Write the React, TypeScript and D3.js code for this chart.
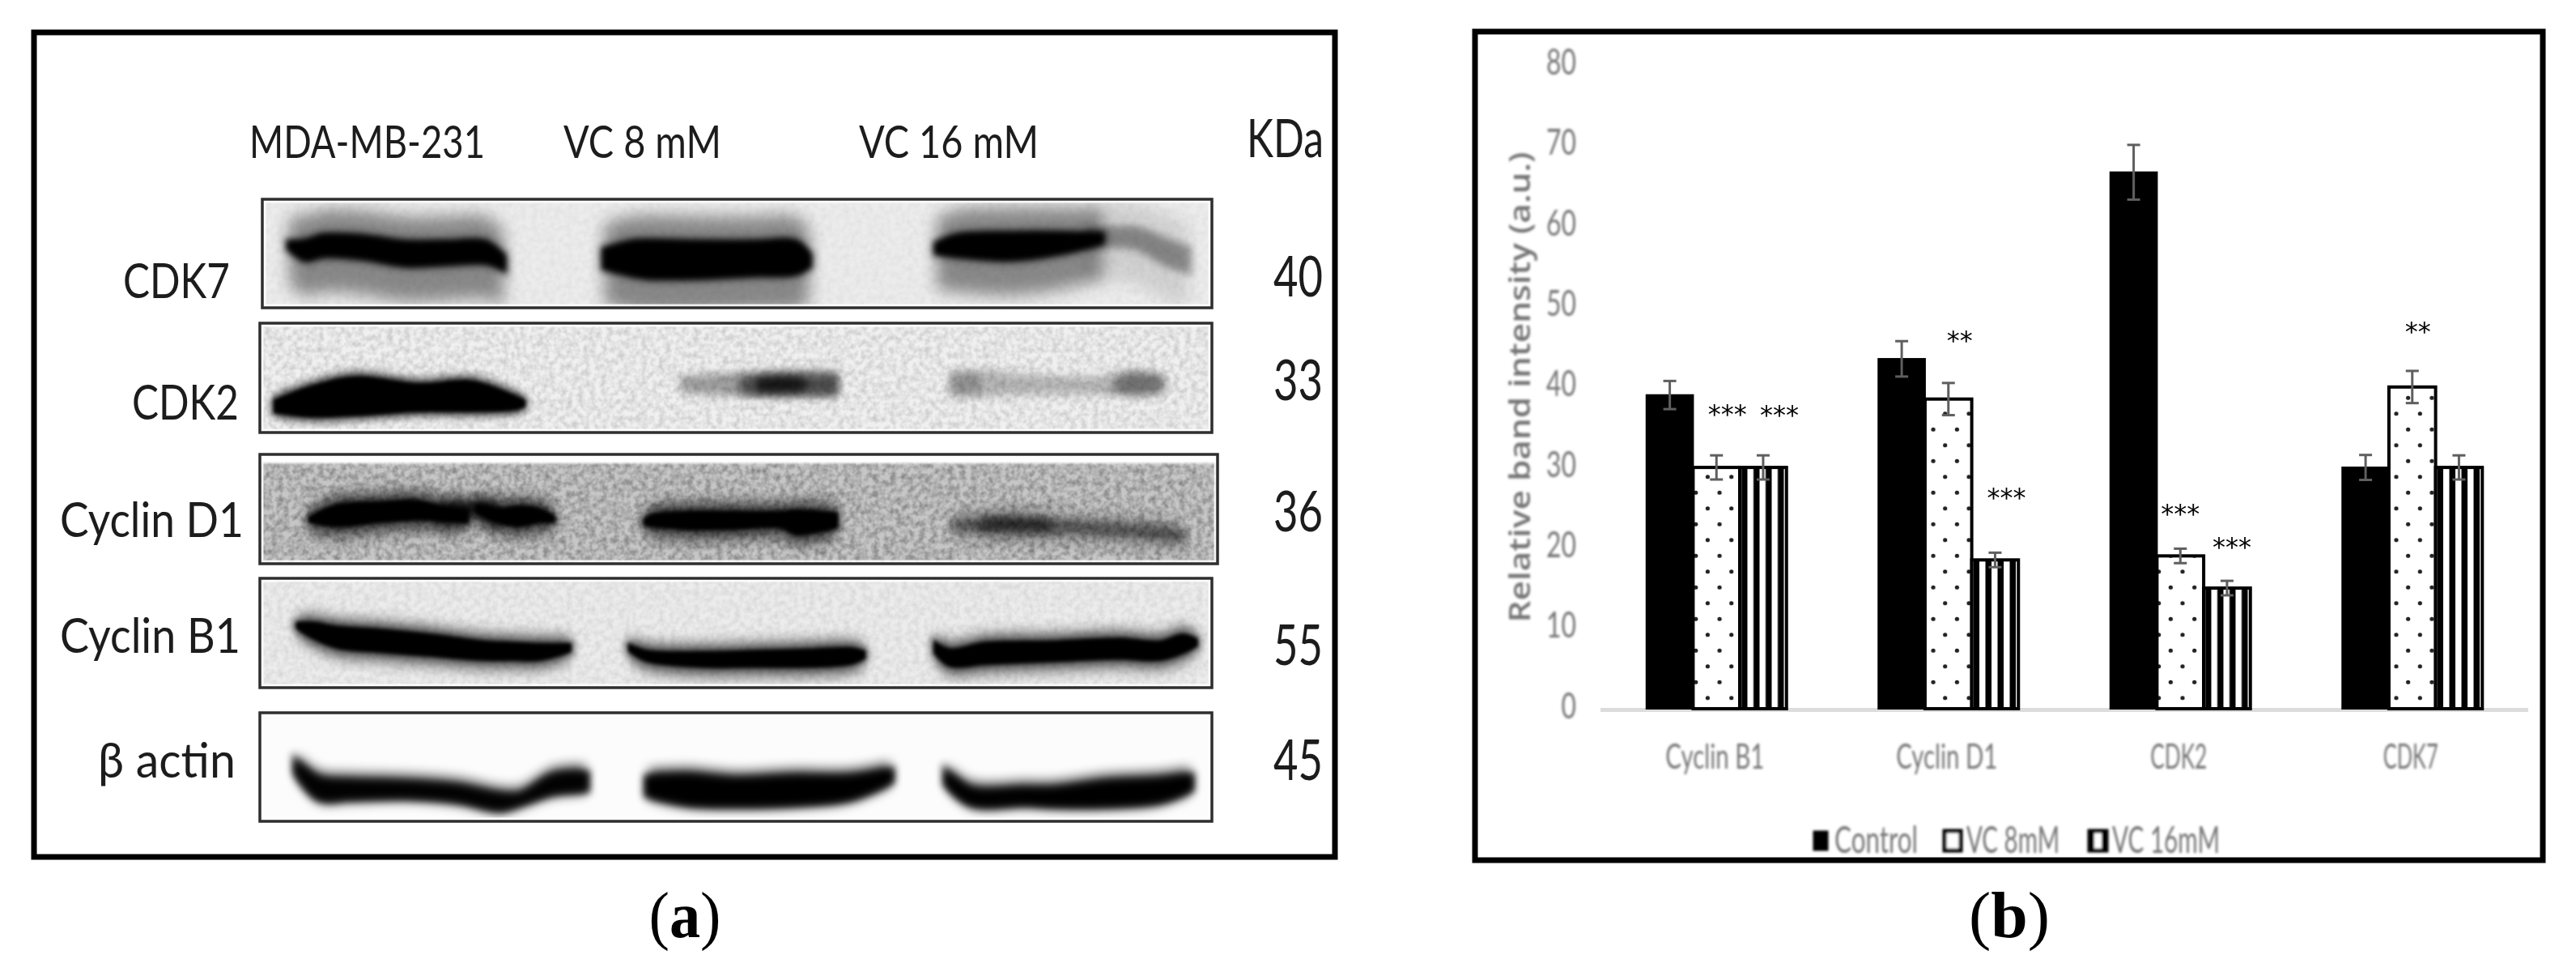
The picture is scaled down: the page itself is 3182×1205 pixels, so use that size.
import { useEffect, useRef } from 'react';
import * as d3 from 'd3';

// bar chart values (panel b)
const categories = ['Cyclin B1', 'Cyclin D1', 'CDK2', 'CDK7'];
const seriesNames = ['Control', 'VC 8mM', 'VC 16mM'];
const controlValues = [39, 43.5, 66.7, 30];
const vc8Values = [30, 38.5, 19, 40];
const vc16Values = [30, 18.5, 15, 30];
const controlErrors = [1.75, 2.2, 3.4, 1.55];
const vc8Errors = [1.5, 2, 0.9, 2];
const vc16Errors = [1.5, 0.9, 0.9, 1.5];
const yTicks = [0, 10, 20, 30, 40, 50, 60, 70, 80];
// significance marks: category, series, label, height in chart units
const stars: [number, number, string, number][] = [
  [0, 1, '***', 37.2],
  [0, 2, '***', 37.1],
  [1, 1, '**', 46.3],
  [1, 2, '***', 26.8],
  [2, 1, '***', 24.8],
  [2, 2, '***', 20.6],
  [3, 1, '**', 47.4],
];

// blot labels (panel a)
const laneLabels = ['MDA-MB-231', 'VC 8 mM', 'VC 16 mM'];
const blotNames = ['CDK7', 'CDK2', 'Cyclin D1', 'Cyclin B1', 'β actin'];
const kdaLabels = ['40', '33', '36', '55', '45'];

// band outlines: [% along the blot, % top edge, % bottom edge]
type BandPoint = [number, number, number];
const cdk7A: BandPoint[] = [[3.1, 40, 45], [4.8, 39, 55], [6.7, 34, 51.5], [11, 35, 54], [15.2, 40, 60], [19.5, 40, 59], [23.7, 40, 57.7], [25.6, 52.7, 64]];
const cdk7B: BandPoint[] = [[36.2, 46.5, 62.7], [39, 40, 69], [40.7, 39, 71.4], [46.4, 40, 71.4], [52, 40, 69], [56.3, 40, 67.7], [57.7, 51.5, 61.4]];
const cdk7C: BandPoint[] = [[71.1, 41.5, 49], [73.3, 34, 51.5], [79, 32, 54.5], [84.7, 32, 47.8], [88.4, 33, 39]];
const cdk7Tail: BandPoint[] = [[87, 30, 42], [92, 28, 44], [95, 38, 58], [97.5, 46, 66]];
const cdk2A: BandPoint[] = [[1.6, 71, 81], [5.3, 58.8, 84.7], [10.1, 50, 83.4], [16.7, 56.3, 79.8], [22.3, 53.8, 79.8], [26.5, 66.2, 78.5], [27.7, 71, 76]];
const cdk2B1: BandPoint[] = [[44.4, 52, 60], [48, 50, 62], [52, 48, 64], [56, 47, 64], [60.5, 47, 64]];
const cdk2B2: BandPoint[] = [[50.7, 52, 62], [54.9, 50, 63], [60.5, 50, 63]];
const cdk2B3: BandPoint[] = [[52.5, 54, 59], [55, 53, 59], [57, 54, 58]];
const cdk2C1: BandPoint[] = [[72.8, 48, 64], [76, 46, 64], [80, 50, 62], [84, 52, 62], [88, 52, 62], [92, 46, 64], [95, 50, 60]];
const cdk2C2: BandPoint[] = [[72.5, 50, 62], [74, 48, 63], [75.5, 50, 62]];
const cdk2C3: BandPoint[] = [[90, 52, 60], [92, 49, 62], [94.6, 52, 60]];
const d1A1: BandPoint[] = [[5.3, 58, 61], [8.1, 47.4, 64.7], [12.4, 44.9, 61], [16.6, 43.7, 58.5], [19.5, 49.9, 59.8], [21.7, 52.3, 61]];
const d1A2: BandPoint[] = [[22.9, 47.4, 52.3], [25.1, 51.1, 61], [27.1, 48.6, 64.7], [29.4, 51.1, 61], [30.8, 57.3, 61]];
const d1A3: BandPoint[] = [[19, 50, 58], [23, 47, 52], [25, 51, 60]];
const d1B: BandPoint[] = [[40.5, 59.8, 63.5], [41.3, 56, 64.7], [45, 53.6, 67.2], [49.2, 53.6, 67.2], [54.9, 53.6, 66], [56.3, 52.3, 72], [60.5, 54.8, 66]];
const d1C1: BandPoint[] = [[73, 62, 68], [78, 60, 68], [82, 62, 69], [87, 64, 71], [91, 66, 73], [94.6, 68, 76], [97, 72, 78]];
const d1C2: BandPoint[] = [[76, 62, 67], [80, 61, 67], [83, 63, 67]];
const b1A: BandPoint[] = [[4, 41.5, 45.2], [5.6, 41.5, 53.8], [8.1, 45.2, 62.5], [12.4, 47.7, 66.2], [18, 52.6, 69.9], [23.7, 58.8, 73.6], [26.5, 60, 73.6], [29.4, 61.2, 73.6], [32.5, 61.2, 66.2]];
const b1B: BandPoint[] = [[38.9, 62, 66], [40.7, 67.4, 74.8], [46.4, 68.6, 79.8], [52, 67.4, 79.8], [57.7, 66.2, 79.8], [62, 64.9, 77.3], [63.4, 67.4, 72.4]];
const b1C: BandPoint[] = [[71, 60, 68], [72.5, 66, 79], [76.2, 60, 77.3], [83.2, 58.8, 74.8], [90.3, 56.3, 72.4], [94.6, 58.8, 73.6], [96.9, 52.6, 67.4], [98.3, 56.3, 61.2]];
const actinA: BandPoint[] = [[3.9, 47.3, 54.7], [6.2, 62.2, 77.1], [9.5, 64.7, 77.1], [15.2, 66, 75.9], [20.9, 69.7, 79.6], [25.2, 77.1, 87.1], [27.4, 77.1, 82.1], [30.8, 59.7, 72.2], [34.2, 57.2, 69.7]];
const actinB: BandPoint[] = [[40.8, 61, 74.6], [45, 59.7, 82.1], [50, 63.4, 83.4], [56.3, 61, 82.1], [62, 61, 77.1], [66.2, 54.7, 62.2]];
const actinC: BandPoint[] = [[72.2, 57, 64.7], [74.7, 72.2, 82.1], [80.4, 72.2, 82.1], [83.2, 72.2, 83.4], [88.9, 66, 83.4], [94.6, 63.4, 79.6], [97.7, 59.7, 69.7]];

const blotBands: [BandPoint[], number][][] = [
  [[cdk7A, 1], [cdk7B, 1], [cdk7C, 1], [cdk7Tail, 0.26]],
  [[cdk2A, 1], [cdk2B1, 0.2], [cdk2B2, 0.32], [cdk2B3, 0.55], [cdk2C1, 0.13], [cdk2C2, 0.1], [cdk2C3, 0.22]],
  [[d1A1, 1], [d1A2, 1], [d1A3, 0.7], [d1B, 1], [d1C1, 0.34], [d1C2, 0.3]],
  [[b1A, 1], [b1B, 1], [b1C, 1]],
  [[actinA, 0.95], [actinB, 1], [actinC, 1]],
];

export default function App() {
  const svgRef = useRef<SVGSVGElement>(null);

  useEffect(() => {
    if (!svgRef.current) return;
    const svg = d3.select(svgRef.current);
    svg.selectAll('*').remove();
    const defs = svg.append('defs');

    const addBlur = (id: string, sd: number) =>
      defs.append('filter').attr('id', id).attr('filterUnits', 'userSpaceOnUse')
        .attr('x', 0).attr('y', 0).attr('width', 3182).attr('height', 1205)
        .append('feGaussianBlur').attr('stdDeviation', sd);
    [0.7, 1.4, 2, 3, 4, 5, 7, 10].forEach(sd => addBlur(`blur${String(sd).replace('.', '_')}`, sd));
    const blurUrl = (sd: number) => `url(#blur${String(sd).replace('.', '_')})`;

    const noise = defs.append('filter').attr('id', 'noise').attr('filterUnits', 'userSpaceOnUse')
      .attr('x', 300).attr('y', 230).attr('width', 1230).attr('height', 800)
      .attr('color-interpolation-filters', 'sRGB');
    noise.append('feTurbulence').attr('type', 'fractalNoise').attr('baseFrequency', 0.14).attr('numOctaves', 2).attr('seed', 4);
    noise.append('feColorMatrix').attr('type', 'matrix')
      .attr('values', '0 0 0 0 0.25  0 0 0 0 0.25  0 0 0 0 0.25  1.8 0 0 0 -0.6');

    drawBlots(svg, defs, blurUrl);
    drawChart(svg, defs, blurUrl);

    // captions
    [['a', 846], ['b', 2482]].forEach(([letter, cx]) => {
      const t = svg.append('text').attr('x', cx).attr('y', 1157).attr('text-anchor', 'middle')
        .attr('font-family', '"Liberation Serif", serif').attr('font-size', 80).attr('fill', '#000')
        .attr('textLength', letter === 'a' ? 89 : 100).attr('lengthAdjust', 'spacingAndGlyphs');
      t.append('tspan').text('(');
      t.append('tspan').attr('font-weight', 700).text(String(letter));
      t.append('tspan').text(')');
    });
  }, []);

  return (
    <svg
      ref={svgRef}
      width={3182}
      height={1205}
      style={{ position: 'absolute', left: 0, top: 0, display: 'block', background: '#fff' }}
    />
  );
}

type Sel = d3.Selection<any, any, any, any>;

function drawBlots(svg: Sel, defs: Sel, blurUrl: (sd: number) => string) {
  const font = 'Lato, "Open Sans", sans-serif';
  const ink = '#1c1c1c';

  svg.append('rect').attr('x', 42).attr('y', 40).attr('width', 1607).attr('height', 1018)
    .attr('fill', '#fff').attr('stroke', '#000').attr('stroke-width', 7);

  const frames = [
    { x0: 324, x1: 1497, y0: 246, y1: 380 },
    { x0: 321, x1: 1497, y0: 399, y1: 534 },
    { x0: 321, x1: 1504, y0: 561, y1: 696 },
    { x0: 321, x1: 1497, y0: 714, y1: 849 },
    { x0: 321, x1: 1497, y0: 880, y1: 1014 },
  ];
  const looks = [
    { bg: '#ececec', grain: 0.06, up: 24, down: 34, halo: 0.42, haloBlur: 10, core: 3, width: 5 },
    { bg: '#f0f0f0', grain: 0.22, up: 7, down: 6, halo: 0.32, haloBlur: 5, core: 2, width: 4 },
    { bg: '#c6c6c6', grain: 0.5, up: 12, down: 13, halo: 0.45, haloBlur: 7, core: 2, width: 5 },
    { bg: '#ececec', grain: 0.12, up: 11, down: 12, halo: 0.38, haloBlur: 7, core: 2, width: 5 },
    { bg: '#fcfcfc', grain: 0, up: 10, down: 6, halo: 0.62, haloBlur: 7, core: 4, width: 6 },
  ];
  const bx = d3.scaleLinear().domain([0, 100]).range([321, 1497]);

  frames.forEach((f, i) => {
    const look = looks[i];
    const by = d3.scaleLinear().domain([0, 100]).range([f.y0, f.y1]);
    const clipId = `blot-clip-${i}`;
    defs.append('clipPath').attr('id', clipId).append('rect')
      .attr('x', f.x0).attr('y', f.y0).attr('width', f.x1 - f.x0).attr('height', f.y1 - f.y0);
    const g = svg.append('g').attr('clip-path', `url(#${clipId})`);

    g.append('rect').attr('x', f.x0).attr('y', f.y0).attr('width', f.x1 - f.x0).attr('height', f.y1 - f.y0)
      .attr('fill', look.bg);
    if (look.grain > 0) {
      g.append('rect').attr('x', f.x0).attr('y', f.y0).attr('width', f.x1 - f.x0).attr('height', f.y1 - f.y0)
        .attr('filter', 'url(#noise)').attr('opacity', look.grain);
    }

    const core = d3.area<BandPoint>().x(d => bx(d[0])).y0(d => by(d[1])).y1(d => by(d[2])).curve(d3.curveCatmullRom);
    const halo = d3.area<BandPoint>().x(d => bx(d[0])).y0(d => by(d[1] - look.up)).y1(d => by(d[2] + look.down)).curve(d3.curveCatmullRom);
    blotBands[i].forEach(([pts, strength]) => {
      g.append('path').attr('d', halo(pts)).attr('fill', '#000')
        .attr('opacity', look.halo * strength).attr('filter', blurUrl(look.haloBlur));
    });
    // soft shoulder round each band, then the solid part
    blotBands[i].forEach(([pts, strength]) => {
      g.append('path').attr('d', core(pts)).attr('fill', '#000')
        .attr('stroke', '#000').attr('stroke-width', look.width + 7)
        .attr('opacity', 0.55 * strength).attr('filter', blurUrl(5));
    });
    blotBands[i].forEach(([pts, strength]) => {
      g.append('path').attr('d', core(pts)).attr('fill', '#000')
        .attr('stroke', '#000').attr('stroke-width', look.width)
        .attr('opacity', strength).attr('filter', blurUrl(strength < 0.9 ? 5 : look.core));
    });

    // white rim inside the frame, wider along the top of Cyclin D1
    g.append('rect').attr('x', f.x0 + 2).attr('y', f.y0 + 2).attr('width', f.x1 - f.x0 - 4).attr('height', f.y1 - f.y0 - 4)
      .attr('fill', 'none').attr('stroke', '#fff').attr('stroke-width', 5).attr('opacity', 0.85);
    if (i === 2) {
      g.append('rect').attr('x', f.x0).attr('y', f.y0).attr('width', f.x1 - f.x0).attr('height', 11)
        .attr('fill', '#fff').attr('filter', blurUrl(1.4));
    }

    svg.append('rect').attr('x', f.x0).attr('y', f.y0).attr('width', f.x1 - f.x0).attr('height', f.y1 - f.y0)
      .attr('fill', 'none').attr('stroke', '#2e2e2e').attr('stroke-width', 3.5);
  });

  const labelsG = svg.append('g').attr('filter', blurUrl(0.7));

  const laneText = [
    { x0: 308, x1: 599 },
    { x0: 696, x1: 891 },
    { x0: 1061, x1: 1283 },
  ];
  labelsG.append('g').selectAll('text').data(laneLabels).join('text')
    .attr('x', (_, i) => laneText[i].x0).attr('y', 175).attr('dy', '.36em')
    .attr('textLength', (_, i) => laneText[i].x1 - laneText[i].x0).attr('lengthAdjust', 'spacingAndGlyphs')
    .attr('font-family', font).attr('font-size', 56).attr('fill', ink).text(d => d);

  labelsG.append('text').attr('x', 1540).attr('y', 170).attr('dy', '.36em')
    .attr('textLength', 95).attr('lengthAdjust', 'spacingAndGlyphs')
    .attr('font-family', font).attr('font-size', 66).attr('fill', ink).text('KDa');

  const nameText = [
    { x0: 152, x1: 284, y: 346 },
    { x0: 163, x1: 295, y: 496 },
    { x0: 74, x1: 301, y: 641 },
    { x0: 74, x1: 297, y: 784 },
    { x0: 121, x1: 291, y: 938 },
  ];
  labelsG.append('g').selectAll('text').data(blotNames).join('text')
    .attr('x', (_, i) => nameText[i].x0).attr('y', (_, i) => nameText[i].y).attr('dy', '.36em')
    .attr('textLength', (_, i) => nameText[i].x1 - nameText[i].x0).attr('lengthAdjust', 'spacingAndGlyphs')
    .attr('font-family', font).attr('font-size', 60).attr('fill', ink).text(d => d);

  const kdaY = [341, 469, 631, 796, 938];
  labelsG.append('g').selectAll('text').data(kdaLabels).join('text')
    .attr('x', 1573).attr('y', (_, i) => kdaY[i]).attr('dy', '.36em')
    .attr('textLength', 61).attr('lengthAdjust', 'spacingAndGlyphs')
    .attr('font-family', font).attr('font-size', 70).attr('fill', ink).text(d => d);
}

function drawChart(svg: Sel, defs: Sel, blurUrl: (sd: number) => string) {
  const font = 'Lato, "Open Sans", sans-serif';
  const grey = '#757575';

  svg.append('rect').attr('x', 1822).attr('y', 39).attr('width', 1319).attr('height', 1023)
    .attr('fill', '#fff').attr('stroke', '#000').attr('stroke-width', 7);

  const x0 = d3.scaleBand().domain(categories).range([1977, 3123]);
  const x1 = d3.scaleBand().domain(seriesNames).range([-86.5, 86.5]);
  const y = d3.scaleLinear().domain([0, 80]).range([875, 80.6]);
  const values = [controlValues, vc8Values, vc16Values];
  const errors = [controlErrors, vc8Errors, vc16Errors];
  const center = (c: number) => x0(categories[c])! + x0.bandwidth() / 2;

  // dot fill for VC 8mM
  const dots = defs.append('pattern').attr('id', 'dots').attr('patternUnits', 'userSpaceOnUse')
    .attr('x', 2395.37).attr('y', 851.95).attr('width', 29.33).attr('height', 39);
  dots.append('rect').attr('width', 29.33).attr('height', 39).attr('fill', '#fff');
  dots.append('circle').attr('cx', 7.33).attr('cy', 9.75).attr('r', 2.6).attr('fill', '#222');
  dots.append('circle').attr('cx', 22).attr('cy', 29.25).attr('r', 2.6).attr('fill', '#222');

  // stripe fill for VC 16mM, started from each bar's own left edge
  categories.forEach((c, i) => {
    const p = defs.append('pattern').attr('id', `stripes-${i}`).attr('patternUnits', 'userSpaceOnUse')
      .attr('x', center(i) + x1(seriesNames[2])! + 9.4).attr('y', 0).attr('width', 15).attr('height', 40);
    p.append('rect').attr('width', 15).attr('height', 40).attr('fill', '#000');
    p.append('rect').attr('width', 7.5).attr('height', 40).attr('fill', '#fff');
  });

  // axes
  svg.append('line').attr('x1', 1977).attr('x2', 3123).attr('y1', 876.5).attr('y2', 876.5)
    .attr('stroke', '#dcdcdc').attr('stroke-width', 5);

  const axisBlur = svg.append('g').attr('filter', blurUrl(1.4));
  axisBlur.append('g').attr('transform', 'translate(1947,-3)')
    .call(d3.axisLeft(y).tickValues(yTicks).tickSize(0).tickPadding(0))
    .call(s => s.select('.domain').remove())
    .call(s => s.selectAll('text').attr('fill', grey).attr('font-size', 44).attr('font-family', font)
      .attr('textLength', (d: any) => String(d).length * 18.5).attr('lengthAdjust', 'spacingAndGlyphs'));

  const xLabelWidths = [122, 125, 70, 68];
  axisBlur.append('g').attr('transform', 'translate(-2,918)')
    .call(d3.axisBottom(x0).tickSize(0).tickPadding(0))
    .call(s => s.select('.domain').remove())
    .call(s => s.selectAll('text').attr('fill', grey).attr('font-size', 43).attr('font-family', font)
      .attr('textLength', (_: any, i: number) => xLabelWidths[i]).attr('lengthAdjust', 'spacingAndGlyphs'));

  axisBlur.append('text').attr('transform', 'translate(1890,478) rotate(-90)').attr('text-anchor', 'middle')
    .attr('font-family', '"Open Sans", sans-serif').attr('font-weight', 600).attr('font-size', 36).attr('fill', grey)
    .attr('textLength', 581).attr('lengthAdjust', 'spacingAndGlyphs').text('Relative band intensity (a.u.)');

  // bars
  const barsG = svg.append('g').attr('filter', blurUrl(0.7));
  seriesNames.forEach((name, s) => {
    barsG.append('g').selectAll('rect').data(values[s]).join('rect')
      .attr('x', (_, c) => center(c) + x1(name)!)
      .attr('y', d => y(d))
      .attr('width', x1.bandwidth())
      .attr('height', d => y(0) - y(d))
      .attr('fill', (_, c) => (s === 0 ? '#000' : s === 1 ? 'url(#dots)' : `url(#stripes-${c})`))
      .attr('stroke', '#000')
      .attr('stroke-width', s === 0 ? 2 : 4);
  });

  // error bars
  seriesNames.forEach((name, s) => {
    const mid = (c: number) => center(c) + x1(name)! + x1.bandwidth() / 2;
    const g = barsG.append('g').attr('stroke', '#5e5e5e').attr('stroke-width', 3).attr('fill', 'none');
    values[s].forEach((v, c) => {
      const e = errors[s][c];
      g.append('line').attr('x1', mid(c)).attr('x2', mid(c)).attr('y1', y(v + e)).attr('y2', y(v - e));
      [v + e, v - e].forEach(t => {
        g.append('line').attr('x1', mid(c) - 8).attr('x2', mid(c) + 8).attr('y1', y(t)).attr('y2', y(t));
      });
    });
  });

  // significance stars, nudged sideways off their bar centres as in the figure
  const starShift = [13.5, 20, 14, 14, 0, 6, 7];
  svg.append('g').selectAll('text').data(stars).join('text')
    .attr('x', (d, i) => center(d[0]) + x1(seriesNames[d[1]])! + x1.bandwidth() / 2 + starShift[i])
    .attr('y', d => y(d[3]) + 16)
    .attr('text-anchor', 'middle').attr('font-family', '"DejaVu Sans", sans-serif')
    .attr('font-size', 32).attr('fill', '#000').text(d => d[2]);

  // legend
  const legendBoxes = [
    { x: 2240, w: 18, tx: 2266, tw: 103 },
    { x: 2402, w: 20, tx: 2429, tw: 115 },
    { x: 2581, w: 21, tx: 2609, tw: 133 },
  ];
  const legend = svg.append('g').attr('filter', blurUrl(1.4));
  seriesNames.forEach((name, s) => {
    const b = legendBoxes[s];
    legend.append('rect').attr('x', b.x).attr('y', 1026).attr('width', b.w).attr('height', 24)
      .attr('fill', s === 0 ? '#000' : '#fff').attr('stroke', '#000').attr('stroke-width', s === 0 ? 1 : 5);
    if (s === 2) {
      legend.append('rect').attr('x', b.x).attr('y', 1026).attr('width', 6).attr('height', 24).attr('fill', '#000');
      legend.append('rect').attr('x', b.x + b.w - 6).attr('y', 1026).attr('width', 6).attr('height', 24).attr('fill', '#000');
    }
    legend.append('text').attr('x', b.tx).attr('y', 1036).attr('dy', '.36em')
      .attr('textLength', b.tw).attr('lengthAdjust', 'spacingAndGlyphs')
      .attr('font-family', font).attr('font-size', 46).attr('fill', grey).text(name);
  });
}
